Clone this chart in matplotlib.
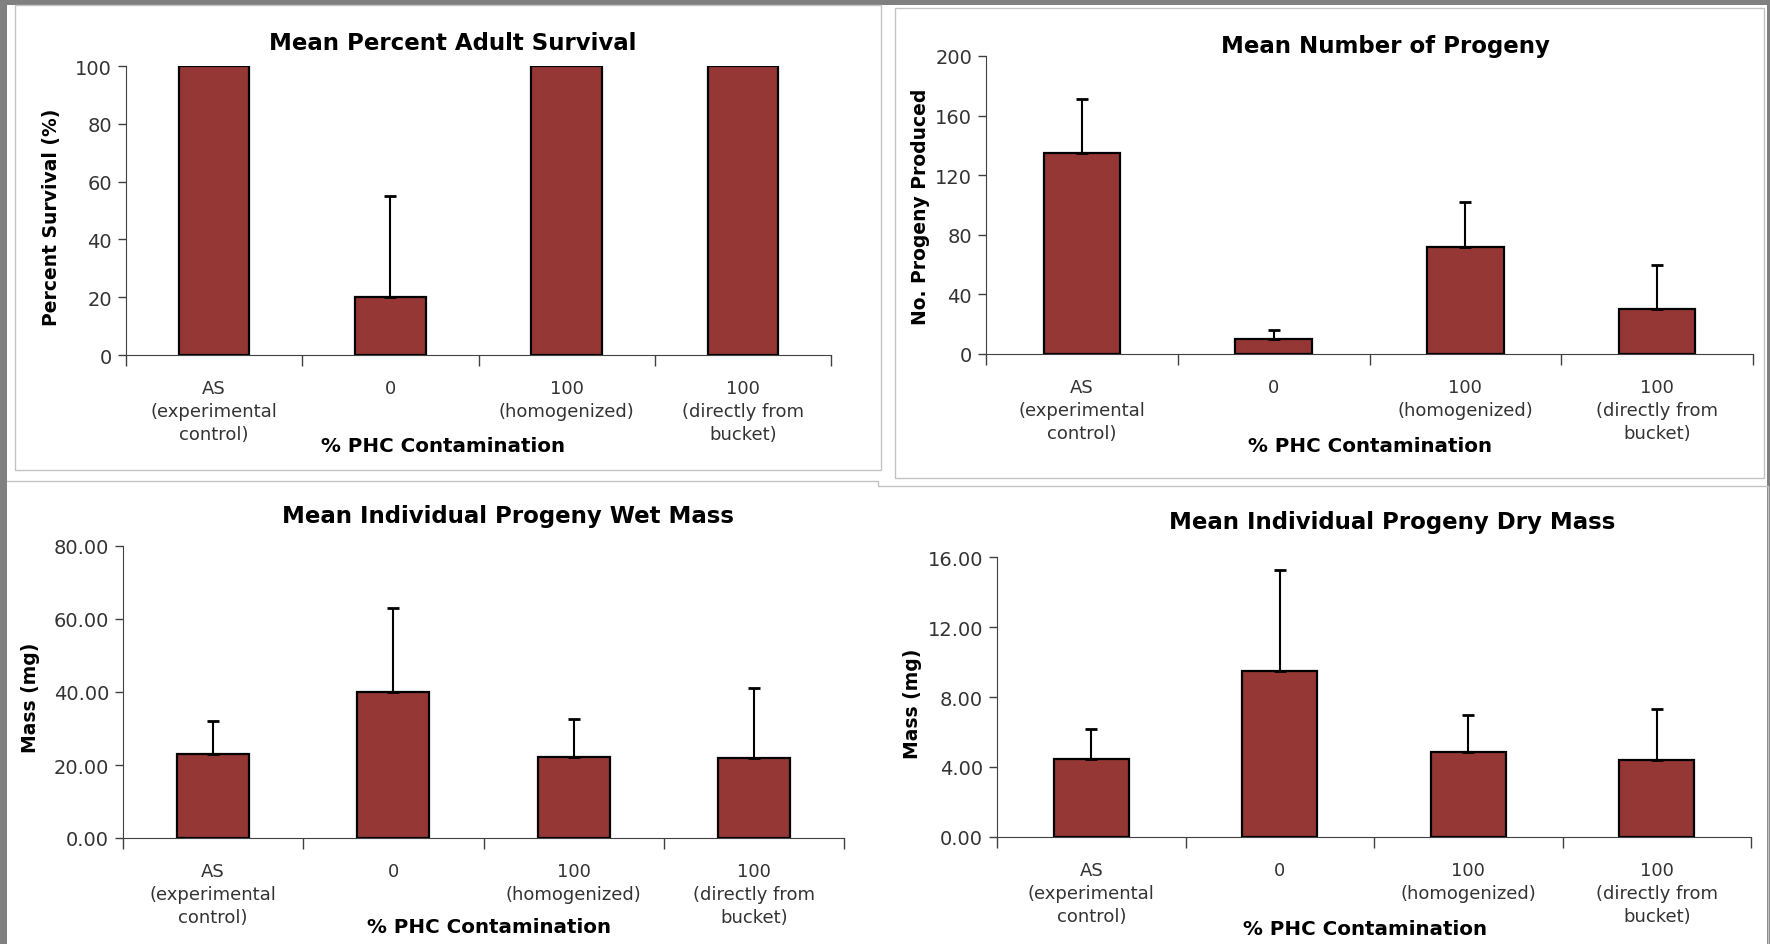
import matplotlib.pyplot as plt
import numpy as np
from matplotlib.lines import Line2D
from matplotlib.patches import Rectangle

# data
categories = ["AS\n(experimental\ncontrol)", "0", "100\n(homogenized)", "100\n(directly from\nbucket)"]

survival_mean = [100, 20, 100, 100]
survival_err = [0, 35, 0, 0]

progeny_mean = [135, 10, 72, 30]
progeny_err = [36, 6, 30, 30]

wet_mass_mean = [23.0, 40.1, 22.3, 22.0]
wet_mass_err = [9.1, 22.8, 10.3, 19.0]

dry_mass_mean = [4.44, 9.49, 4.88, 4.38]
dry_mass_err = [1.71, 5.77, 2.09, 2.95]

W, H = 1770, 945
BAR = '#953735'
FONT = 'DejaVu Sans'

fig = plt.figure(figsize=(W / 100, H / 100), dpi=100, facecolor='#808080')


def fx(x):
    return x / W


def fy(y):
    return 1 - y / H


def rect(l, t, r, b):
    return [fx(l), fy(b), (r - l) / W, (b - t) / H]


# white page with the chart frames
fig.patches.append(Rectangle((fx(7), 0), fx(1767 - 7), 1 - 6 / H, transform=fig.transFigure,
                             facecolor='white', edgecolor='none', zorder=-2))
for l, t, r, b in [(15, 6, 881, 471), (895, 9, 1764, 479)]:
    fig.patches.append(Rectangle((fx(l), fy(b)), fx(r - l), (b - t) / H, transform=fig.transFigure,
                                 facecolor='none', edgecolor='#c3c3c3', lw=1.0, zorder=-1))
fig.lines.append(Line2D([fx(7), fx(878), fx(878), fx(1768), fx(1768)],
                        [fy(482), fy(482), fy(487), fy(487), fy(945)],
                        color='#c3c3c3', lw=1.0, transform=fig.transFigure, zorder=-1))


def panel(box, means, errs, title, title_xy, ylabel, ylabel_xy, ymax, ystep, fmt, xlabel_xy):
    ax = fig.add_axes(rect(*box))
    x = np.arange(len(means))
    ax.bar(x, means, width=0.4, color=BAR, edgecolor='black', linewidth=1.6, zorder=3)
    errs = np.array(errs)
    keep = errs > 0
    ax.errorbar(x[keep], np.array(means)[keep], yerr=[np.zeros(keep.sum()), errs[keep]],
                fmt='none', ecolor='black', elinewidth=1.5, capsize=4, capthick=2, zorder=4)

    ax.set_xlim(-0.5, len(means) - 0.5)
    ax.set_ylim(0, ymax)
    ax.set_yticks(np.arange(0, ymax + ystep / 2, ystep))
    ax.yaxis.set_major_formatter(plt.FormatStrFormatter(fmt))
    ax.set_xticks(x)
    ax.set_xticklabels(categories, fontsize=13, fontname=FONT, color='#333333', va='top',
                       linespacing=1.38)
    ax.set_xticks(np.arange(-0.5, len(means)), minor=True)
    ax.tick_params(axis='x', which='major', length=0, pad=17)
    ax.tick_params(axis='x', which='minor', length=8, direction='out', width=1, color='#404040')
    ax.tick_params(axis='y', length=6, direction='out', width=1, color='#404040', pad=4,
                   labelsize=14, labelcolor='#333333')
    for lab in ax.get_yticklabels():
        lab.set_fontname(FONT)
    for s in ['top', 'right']:
        ax.spines[s].set_visible(False)
    ax.spines['left'].set_color('#404040')
    ax.spines['bottom'].set_color('#404040')
    ax.set_facecolor('none')

    fig.text(fx(title_xy[0]), fy(title_xy[1]), title, ha='center', va='center',
             fontsize=16.5, fontweight='bold', fontname=FONT)
    fig.text(fx(xlabel_xy[0]), fy(xlabel_xy[1]), '% PHC Contamination', ha='center', va='center',
             fontsize=14.3, fontweight='bold', fontname=FONT)
    fig.text(fx(ylabel_xy[0]), fy(ylabel_xy[1]), ylabel, ha='center', va='center', rotation=90,
             fontsize=13.5, fontweight='bold', fontname=FONT)
    return ax


panel((126, 67, 831, 356), survival_mean, survival_err, 'Mean Percent Adult Survival', (453, 43),
      'Percent Survival (%)', (52, 217), 100, 20, '%d', (443, 447))
panel((986, 57, 1753, 355), progeny_mean, progeny_err, 'Mean Number of Progeny', (1385, 47),
      'No. Progeny Produced', (920, 207), 200, 40, '%d', (1370, 447))
panel((123, 547, 844, 839), wet_mass_mean, wet_mass_err, 'Mean Individual Progeny Wet Mass', (508, 517),
      'Mass (mg)', (31, 698), 80, 20, '%.2f', (489, 928))
panel((997, 558, 1751, 838), dry_mass_mean, dry_mass_err, 'Mean Individual Progeny Dry Mass', (1392, 523),
      'Mass (mg)', (912, 704), 16, 4, '%.2f', (1365, 930))

fig.savefig('out.png', dpi=100, facecolor=fig.get_facecolor())
